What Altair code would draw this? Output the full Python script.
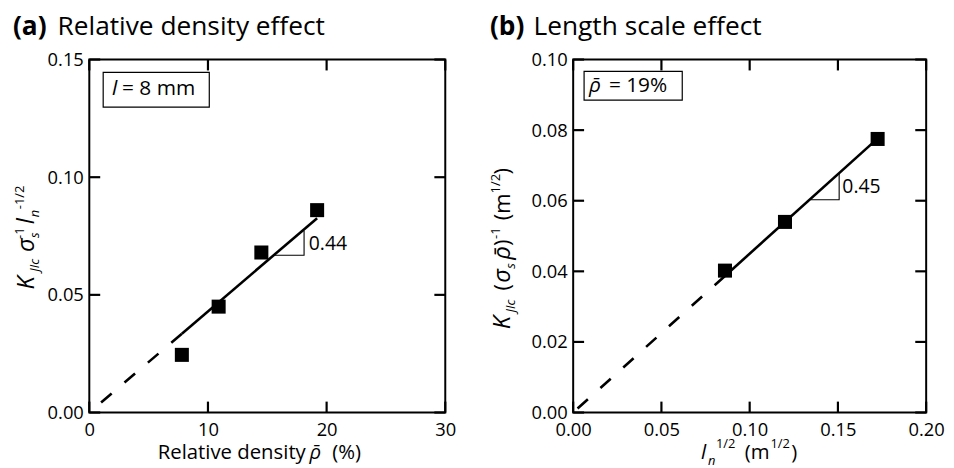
import altair as alt
import pandas as pd

FONT = "Open Sans"

# ---------------- data: panel (a) relative density effect ----------------
a_density = [7.8, 10.9, 14.5, 19.2]
a_value = [0.0245, 0.045, 0.068, 0.086]
a_solid_x = [7.8, 19.2]
a_solid_y = [0.0335, 0.0826]
a_dash_x = [7.8, 0.0]
a_dash_y = [0.0335, 0.0]
a_tri_x = [15.6, 18.1, 18.1]
a_tri_y = [0.0668, 0.0668, 0.0774]
a_slope_x = [18.5]
a_slope_y = [0.0716]
a_slope_text = ["0.44"]
a_xticks = [0, 10, 20, 30]
a_yticks = [0.0, 0.05, 0.10, 0.15]

# ---------------- data: panel (b) length scale effect ----------------
b_len = [0.086, 0.120, 0.1725]
b_value = [0.0402, 0.0540, 0.0775]
b_solid_x = [0.086, 0.1735]
b_solid_y = [0.0387, 0.0781]
b_dash_x = [0.086, 0.0]
b_dash_y = [0.0387, 0.0]
b_tri_x = [0.1345, 0.1507, 0.1507]
b_tri_y = [0.0603, 0.0603, 0.0676]
b_slope_x = [0.1525]
b_slope_y = [0.0639]
b_slope_text = ["0.45"]
b_xticks = [0.0, 0.05, 0.10, 0.15, 0.20]
b_yticks = [0.0, 0.02, 0.04, 0.06, 0.08, 0.10]

TICK_FS = 18.5
LABEL_FS = 20.5
TITLE_FS = 26.5
TICK_LEN = 11


def txt(s, x, y, size, style="normal", weight="normal", angle=0, align="left", baseline="alphabetic"):
    return alt.Chart(pd.DataFrame({"t": [s]})).mark_text(
        font=FONT, fontSize=size, fontStyle=style, fontWeight=weight, angle=angle,
        align=align, baseline=baseline, color="black"
    ).encode(x=alt.value(x), y=alt.value(y), text="t")


def axis(orient, values, fmt, pad):
    return alt.Axis(
        orient=orient, values=values, format=fmt, ticks=False, domain=False, grid=False,
        labelFont=FONT, labelFontSize=TICK_FS, labelColor="black", labelPadding=pad,
        labelFlush=False, labelOverlap=False, title=None,
    )


def xticks_fmt(values):
    return ".0f" if max(values) > 1 else ".2f"


def xrule(vals, scale, y1, y2, key):
    return alt.Chart(pd.DataFrame({"v": vals, "k": [key] * len(vals)})).mark_rule(
        color="black", strokeWidth=2.2).encode(
        x=alt.X("v:Q", scale=scale, axis=None), y=alt.value(y1), y2=alt.value(y2))


def yrule(vals, scale, x1, x2, key):
    return alt.Chart(pd.DataFrame({"v": vals, "k": [key] * len(vals)})).mark_rule(
        color="black", strokeWidth=2.2).encode(
        y=alt.Y("v:Q", scale=scale, axis=None), x=alt.value(x1), x2=alt.value(x2))


def panel(px, py, sx, sy, dx, dy, tx, ty, slx, sly, slt,
          xdom, ydom, xticks, yticks, w, h, extras):
    xs = alt.Scale(domain=xdom, nice=False, zero=False)
    ys = alt.Scale(domain=ydom, nice=False, zero=False)
    pts = alt.Chart(pd.DataFrame({"x": px, "y": py})).mark_square(
        size=200, color="black", opacity=1
    ).encode(
        x=alt.X("x:Q", scale=xs, axis=axis("bottom", xticks, xticks_fmt(xticks), 8.5)),
        y=alt.Y("y:Q", scale=ys, axis=axis("left", yticks, ".2f", 6)),
    )
    solid = alt.Chart(pd.DataFrame({"x": sx, "y": sy, "o": list(range(len(sx)))})).mark_line(
        color="black", strokeWidth=2.6
    ).encode(x=alt.X("x:Q", scale=xs, axis=None), y=alt.Y("y:Q", scale=ys, axis=None), order="o:Q")
    dash = alt.Chart(pd.DataFrame({"x": dx, "y": dy, "o": list(range(len(dx)))})).mark_line(
        color="black", strokeWidth=2.6, strokeDash=[14, 17]
    ).encode(x=alt.X("x:Q", scale=xs, axis=None), y=alt.Y("y:Q", scale=ys, axis=None), order="o:Q")
    tri = alt.Chart(pd.DataFrame({"x": tx, "y": ty, "o": list(range(len(tx)))})).mark_line(
        color="black", strokeWidth=1.1
    ).encode(x=alt.X("x:Q", scale=xs, axis=None), y=alt.Y("y:Q", scale=ys, axis=None), order="o:Q")
    slope = alt.Chart(pd.DataFrame({"x": slx, "y": sly, "t": slt})).mark_text(
        font=FONT, fontSize=19.5, align="left", baseline="middle", color="black"
    ).encode(x=alt.X("x:Q", scale=xs, axis=None), y=alt.Y("y:Q", scale=ys, axis=None), text="t")
    ticks = [
        xrule(xticks, xs, h, h - TICK_LEN, "bottom"),
        xrule(xticks, xs, 0, TICK_LEN, "top"),
        yrule(yticks, ys, 0, TICK_LEN, "left"),
        yrule(yticks, ys, w, w - TICK_LEN, "right"),
    ]
    layers = [dash, tri, solid, pts, slope] + ticks + extras
    return alt.layer(*layers).resolve_axis(x="independent", y="independent").properties(
        width=w, height=h
    )


def box(x1, y1, x2, y2):
    return alt.Chart(pd.DataFrame({"k": [0]})).mark_rect(
        fill="white", stroke="black", strokeWidth=1.2
    ).encode(x=alt.value(x1), x2=alt.value(x2), y=alt.value(y1), y2=alt.value(y2))


# ---------- panel (a) texts ----------
a_extras = [
    txt("(a)", -77, -25, TITLE_FS, weight="bold"),
    txt("Relative density effect", -32, -25, TITLE_FS),
    box(14, 13, 121, 48),
    txt("l", 23, 36, 21, style="italic"),
    txt("= 8 mm", 33, 36, 21),
    # x title
    txt("Relative density", 69, 403, LABEL_FS),
    txt("ρ̄", 222, 403, LABEL_FS, style="italic"),
    txt("(%)", 245, 403, LABEL_FS),
    # y title (rotated)
    txt("K", -56, 232, 24, style="italic", angle=270),
    txt("JIc", -51, 214, 13, style="italic", angle=270),
    txt("σ", -56, 194, 24, style="italic", angle=270),
    txt("s", -51, 180, 13, style="italic", angle=270),
    txt("-1", -66, 181, 13, angle=270),
    txt("l", -56, 166, 24, style="italic", angle=270),
    txt("n", -51, 159, 13, style="italic", angle=270),
    txt("-1/2", -66, 151, 13, angle=270),
]

# ---------- panel (b) texts ----------
b_extras = [
    txt("(b)", -84, -25, TITLE_FS, weight="bold"),
    txt("Length scale effect", -40, -25, TITLE_FS),
    box(11, 12, 110, 41),
    txt("ρ̄", 16, 33, 21, style="italic"),
    txt("= 19%", 36, 33, 21),
    # x title
    txt("l", 129, 403, LABEL_FS, style="italic"),
    txt("n", 136, 409, 13, style="italic"),
    txt("1/2", 144, 392, 13),
    txt("(m", 173, 403, LABEL_FS),
    txt("1/2", 199, 392, 13),
    txt(")", 220, 403, LABEL_FS),
    # y title (rotated)
    txt("K", -64, 272, 24, style="italic", angle=270),
    txt("JIc", -59, 255, 13, style="italic", angle=270),
    txt("(", -64, 233, 22, angle=270),
    txt("σ", -64, 225, 24, style="italic", angle=270),
    txt("s", -59, 211, 13, style="italic", angle=270),
    txt("ρ̄", -64, 202, 24, style="italic", angle=270),
    txt(")", -64, 188, 22, angle=270),
    txt("-1", -74, 181, 13, angle=270),
    txt("(m", -64, 162, 22, angle=270),
    txt("1/2", -74, 135, 13, angle=270),
    txt(")", -64, 116, 22, angle=270),
]

pa = panel(a_density, a_value, a_solid_x, a_solid_y, a_dash_x, a_dash_y, a_tri_x, a_tri_y,
           a_slope_x, a_slope_y, a_slope_text, [0, 30], [0, 0.15], a_xticks, a_yticks,
           359, 356, a_extras)
pb = panel(b_len, b_value, b_solid_x, b_solid_y, b_dash_x, b_dash_y, b_tri_x, b_tri_y,
           b_slope_x, b_slope_y, b_slope_text, [0, 0.20], [0, 0.10], b_xticks, b_yticks,
           356, 356, b_extras)

chart = alt.HConcatChart(hconcat=[pa, pb], spacing=129, bounds="flush").properties(
    padding={"left": 4, "top": 3, "right": 0, "bottom": 0}
).configure_view(stroke="black", strokeWidth=2)

chart.save("out.html", embed_options={"renderer": "svg", "actions": False})
